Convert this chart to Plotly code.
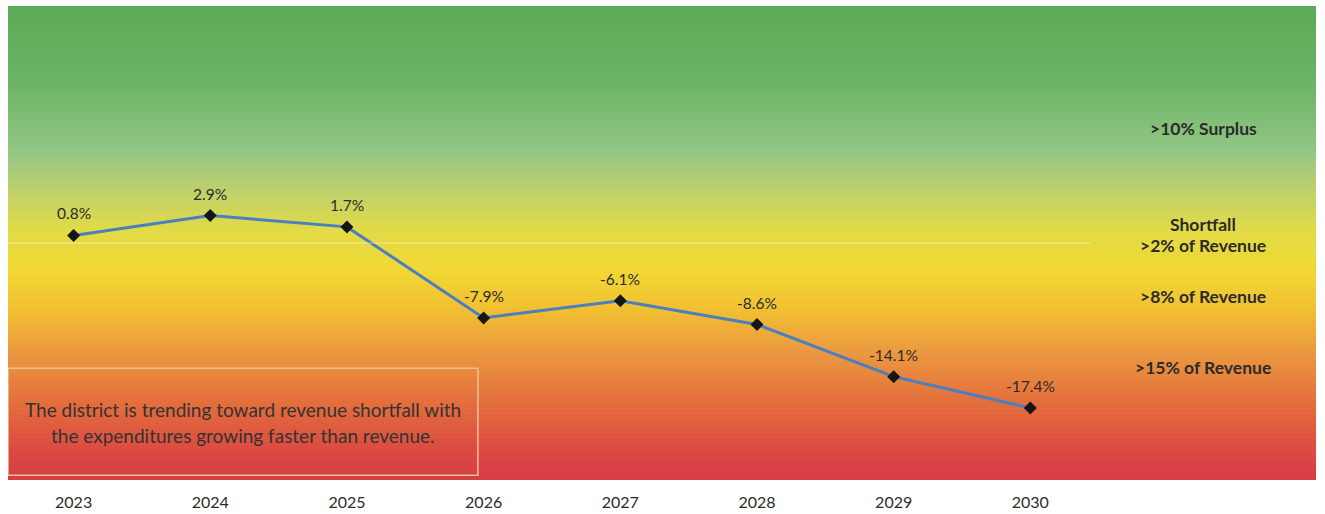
import numpy as np
import plotly.graph_objects as go

# Fiscal years and projected operating margin (% of revenue)
years = ["2023", "2024", "2025", "2026", "2027", "2028", "2029", "2030"]
margin_pct = [0.8, 2.9, 1.7, -7.9, -6.1, -8.6, -14.1, -17.4]

# Status bands shown on the right-hand side
band_labels = [">10% Surplus", "Shortfall", ">2% of Revenue", ">8% of Revenue", ">15% of Revenue"]
band_label_y = [12.1, 2.0, -0.3, -5.6, -13.1]

note_lines = [
    "The district is trending toward revenue shortfall with",
    "the expenditures growing faster than revenue.",
]

Y_MIN, Y_MAX = -25.0, 25.0
X_MIN, X_MAX = -0.48, 9.09
xi = list(range(len(years)))

FONT = "Lato"
TEXT_COLOR = "#2b2b2b"

# Green -> yellow -> red background gradient (bottom to top)
grad_scale = [
    [0.000, "#d63c46"],
    [0.063, "#dc4a42"],
    [0.169, "#e4703c"],
    [0.274, "#eb9a40"],
    [0.359, "#f1bf32"],
    [0.443, "#f1d834"],
    [0.527, "#e2db46"],
    [0.612, "#bfd06c"],
    [0.696, "#92c685"],
    [0.844, "#6ab463"],
    [1.000, "#5caa56"],
]
grad_y = np.linspace(Y_MIN - 1, Y_MAX + 1, 300)
grad_z = [[v, v] for v in grad_y]

fig = go.Figure()
fig.add_trace(go.Heatmap(
    x=[X_MIN - 1, X_MAX + 1], y=grad_y, z=grad_z,
    colorscale=grad_scale, zmin=Y_MIN, zmax=Y_MAX,
    zsmooth="best", showscale=False, hoverinfo="skip",
))

# Faint zero reference line
fig.add_shape(type="line", xref="x", yref="y", x0=X_MIN, x1=7.44, y0=0, y1=0,
              line=dict(color="rgba(255,255,255,0.35)", width=1.5), layer="above")

fig.add_trace(go.Scatter(
    x=xi, y=margin_pct, mode="lines+markers",
    line=dict(color="#4a7fc0", width=3),
    marker=dict(symbol="diamond", size=10, color="#161616"),
    hoverinfo="skip", showlegend=False,
))

# Value labels above each point
for x, v in zip(xi, margin_pct):
    fig.add_annotation(x=x, y=v, text=f"{v:.1f}%", showarrow=False, yshift=22,
                       font=dict(family=FONT, size=15.5, color=TEXT_COLOR))

# Band labels
for t, y in zip(band_labels, band_label_y):
    fig.add_annotation(x=8.265, y=y, text=f"<b>{t}</b>", showarrow=False,
                       font=dict(family=FONT, size=17.5, color=TEXT_COLOR))

# Note box in the lower-left corner
fig.add_shape(type="rect", xref="x", yref="y", x0=X_MIN, x1=2.958, y0=-24.5, y1=-13.2,
              line=dict(color="#e8c396", width=1.5), fillcolor="rgba(0,0,0,0)", layer="above")
for i, line in enumerate(note_lines):
    fig.add_annotation(x=1.237, y=-17.6 - i * 2.75, text=line, showarrow=False,
                       font=dict(family=FONT, size=19, color="#333333"))

fig.update_xaxes(range=[X_MIN, X_MAX], tickmode="array", tickvals=xi, ticktext=years,
                 showgrid=False, zeroline=False, showline=False, ticks="",
                 ticklabelstandoff=11, automargin=False,
                 tickfont=dict(family=FONT, size=16, color=TEXT_COLOR))
fig.update_yaxes(range=[Y_MIN, Y_MAX], showgrid=False, zeroline=False,
                 showticklabels=False, showline=False, ticks="", automargin=False)

fig.update_layout(
    width=1325, height=514,
    margin=dict(l=8, r=9, t=6, b=34),
    paper_bgcolor="white", plot_bgcolor="white",
    showlegend=False,
)

fig.write_html("out.html", config={"displayModeBar": False})
